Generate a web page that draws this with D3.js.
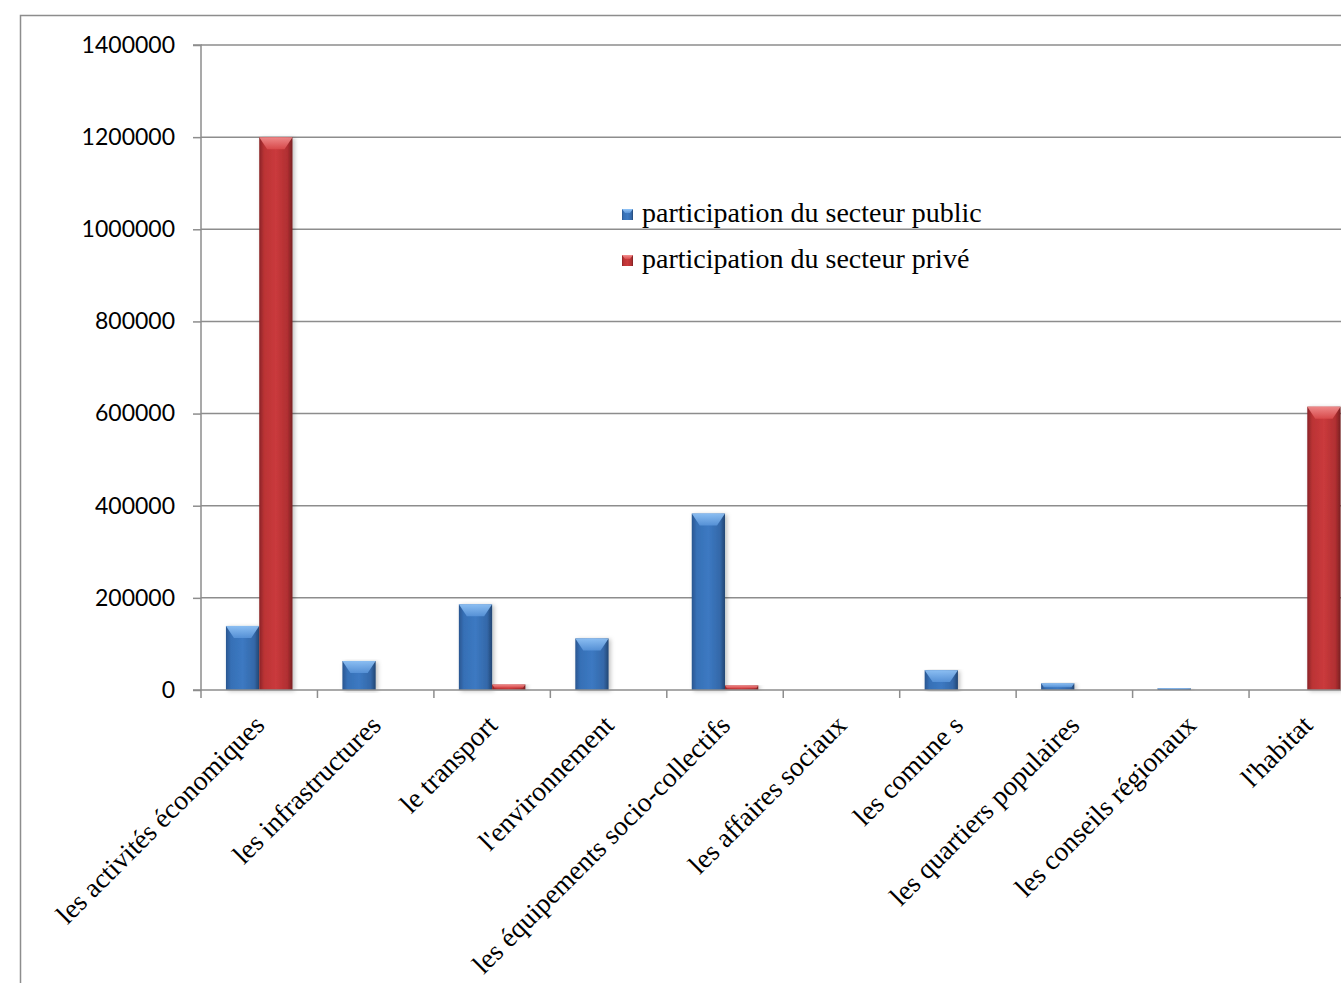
<!DOCTYPE html>
<html>
<head>
<meta charset="utf-8">
<script src="https://cdn.jsdelivr.net/npm/d3@7"></script>
<style>
html,body{margin:0;padding:0;background:#fff;overflow:hidden;}
svg{display:block;}
</style>
</head>
<body>
<svg id="chart" width="1341" height="983"></svg>
<script>
const categories = ["les activités économiques","les infrastructures","le transport","l'environnement","les équipements socio-collectifs","les affaires sociaux","les comune s","les quartiers populaires","les conseils régionaux","l'habitat"];
const seriesNames = ["participation du secteur public","participation du secteur privé"];
const publicValues = [139000, 63000, 186000, 112000, 383000, 0, 43000, 14500, 3700, 0];
const privateValues = [1200000, 0, 12000, 0, 10000, 0, 0, 0, 0, 615000];
const yTicks = [0, 200000, 400000, 600000, 800000, 1000000, 1200000, 1400000];

(function(){
const svg = d3.select("#chart");
const plotLeft = 201, plotTop = 45, plotBottom = 690, step = 116.45;
const plotRight = plotLeft + step * categories.length;

const x0 = d3.scaleBand().domain(categories).range([plotLeft, plotRight]).paddingInner(0).paddingOuter(0);
const x1 = d3.scaleBand().domain(seriesNames).range([0, x0.bandwidth()]).paddingInner(0).paddingOuter(0.75);
const y = d3.scaleLinear().domain([0, 1400000]).range([plotBottom, plotTop]);

const defs = svg.append("defs");
function grad(id, stops, horiz=true){
  const g = defs.append("linearGradient").attr("id", id)
    .attr("x1","0").attr("y1","0").attr("x2", horiz?"1":"0").attr("y2", horiz?"0":"1");
  stops.forEach(s => g.append("stop").attr("offset", s[0]).attr("stop-color", s[1]));
}
grad("gBlue", [["0%","#2a5690"],["15%","#3670b6"],["50%","#3c79c2"],["85%","#3468a9"],["100%","#234673"]]);
grad("gRed", [["0%","#8a2426"],["15%","#bb3335"],["50%","#ca3a3c"],["85%","#b02f32"],["100%","#782022"]]);
grad("gBlueTop", [["0%","#94c6f8"],["100%","#5893d8"]], false);
grad("gRedTop", [["0%","#f39292"],["100%","#d94b4c"]], false);
const shadow = defs.append("filter").attr("id","sh").attr("x","-20%").attr("y","-5%").attr("width","150%").attr("height","115%");
shadow.append("feDropShadow").attr("dx",2).attr("dy",1).attr("stdDeviation",2).attr("flood-color","#000").attr("flood-opacity",0.25);

// outer chart border
svg.append("path").attr("d", `M20.5,983 L20.5,15.5 L1341,15.5`).attr("fill","none").attr("stroke","#8d8d8d").attr("stroke-width",1.5);

// gridlines
svg.append("g").selectAll("line").data(yTicks.slice(1)).join("line")
  .attr("x1", plotLeft).attr("x2", 1341).attr("y1", d=>y(d)).attr("y2", d=>y(d))
  .attr("stroke","#8d8d8d").attr("stroke-width",1.5);

// y axis
const yAxis = svg.append("g").attr("transform",`translate(${plotLeft},0)`)
  .call(d3.axisLeft(y).tickValues(yTicks).tickSize(8).tickPadding(18).tickFormat(d3.format("d")));
yAxis.select(".domain").attr("stroke","#8d8d8d").attr("stroke-width",1.5).attr("d",`M-8,${y(1400000)}H0V${plotBottom}`);
yAxis.selectAll(".tick line").attr("stroke","#8d8d8d").attr("stroke-width",1.5);
yAxis.selectAll(".tick text").attr("font-family","Lato, 'Open Sans', sans-serif").attr("font-size","23px").attr("fill","#000");

// bars
const data = categories.map((c,i)=>({cat:c, vals:[publicValues[i], privateValues[i]]}));
const barsG = svg.append("g");
data.forEach(d=>{
  d.vals.forEach((v,si)=>{
    if(v<=0) return;
    const bx = x0(d.cat) + x1(seriesNames[si]);
    const bw = x1.bandwidth();
    const by = y(v), bh = plotBottom - by;
    barsG.append("rect").attr("x",bx).attr("y",by).attr("width",bw).attr("height",bh)
      .attr("fill", si===0?"url(#gBlue)":"url(#gRed)").attr("filter","url(#sh)");
    const th = Math.min(12, bh*0.6), ins = Math.min(8, th*0.7);
    barsG.append("path")
      .attr("d",`M${bx},${by}L${bx+bw},${by}L${bx+bw-ins},${by+th}L${bx+ins},${by+th}Z`)
      .attr("fill", si===0?"url(#gBlueTop)":"url(#gRedTop)").attr("opacity",0.9);
  });
});

// x axis
svg.append("line").attr("x1",plotLeft-8).attr("x2",1341).attr("y1",plotBottom).attr("y2",plotBottom).attr("stroke","#8d8d8d").attr("stroke-width",1.5);
svg.append("g").selectAll("line").data(categories).join("line")
  .attr("x1",d=>x0(d)).attr("x2",d=>x0(d)).attr("y1",plotBottom).attr("y2",plotBottom+8)
  .attr("stroke","#8d8d8d").attr("stroke-width",1.5);
svg.append("g").selectAll("text").data(categories).join("text")
  .attr("transform", d=>`translate(${x0(d)+x0.bandwidth()/2},${plotBottom+30}) rotate(-45)`)
  .attr("text-anchor","end").attr("dy","0.35em")
  .attr("font-family","'Liberation Serif','Times New Roman',serif").attr("font-size","27.5px").attr("fill","#000")
  .text(d=>d);

// legend
const lg = svg.append("g").attr("transform","translate(622,209)");
seriesNames.forEach((s,i)=>{
  const g = lg.append("g").attr("transform",`translate(0,${i*46})`);
  g.append("rect").attr("x",0).attr("y",0).attr("width",11).attr("height",11)
    .attr("fill", i===0?"url(#gBlue)":"url(#gRed)");
  g.append("path").attr("d","M0,0L11,0L8,4L3,4Z").attr("fill", i===0?"url(#gBlueTop)":"url(#gRedTop)");
  g.append("text").attr("x",20).attr("y",12.5)
    .attr("font-family","'Liberation Serif','Times New Roman',serif").attr("font-size","28px").attr("fill","#000")
    .text(s);
});
})();
</script>
</body>
</html>
